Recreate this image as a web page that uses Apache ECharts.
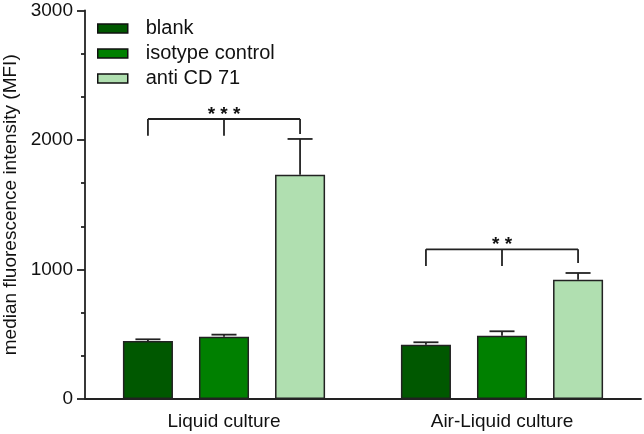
<!DOCTYPE html>
<html><head><meta charset="utf-8">
<script src="https://cdn.jsdelivr.net/npm/echarts@6/dist/echarts.min.js"></script>
<style>html,body{margin:0;padding:0;background:#fff}#c{width:644px;height:434px}</style>
</head><body><div id="c"></div>
<script>
var categories = ['Liquid culture', 'Air-Liquid culture'];
var seriesNames = ['blank', 'isotype control', 'anti CD 71'];
var blankMean = [448, 419];
var blankErr = [13, 19];
var isotypeMean = [481, 489];
var isotypeErr = [16, 34];
var antiMean = [1732, 921];
var antiErr = [276, 52];
var bracketLine = [2162, 1156];
var bracketLegLeft = [2033, 1027];
var bracketLegMid = [2033, 1027];
var bracketLegRight = [2046, 1050];
var bracketStars = ['* * *', '* *'];
var yTicks = [0, 1000, 2000, 3000];

var FONT = '"Liberation Sans", Arial, sans-serif';
var colors = ['#005800', '#008000', '#b0dfb0'];
var BAR_W = 0.18, BAR_GAP = 0.52;

function errSeries(means, errs, k) {
  return {
    type: 'custom', z: 5, silent: true,
    data: means.map(function (m, i) { return [i, m, errs[i]]; }),
    renderItem: function (params, api) {
      var band = api.size([1, 0])[0];
      var off = k * band * BAR_W * (1 + BAR_GAP);
      var cap = band * BAR_W * 0.5;
      var p0 = api.coord([api.value(0), api.value(1)]);
      var p1 = api.coord([api.value(0), api.value(1) + api.value(2)]);
      var x = p0[0] + off;
      var st = { stroke: '#222', lineWidth: 1.8 };
      return { type: 'group', children: [
        { type: 'line', shape: { x1: x, y1: p0[1], x2: x, y2: p1[1] }, style: st },
        { type: 'line', shape: { x1: x - cap / 2, y1: p1[1], x2: x + cap / 2, y2: p1[1] }, style: st }
      ]};
    }
  };
}

var bracketData = categories.map(function (c, i) {
  return [i, bracketLine[i], bracketLegLeft[i], bracketLegMid[i], bracketLegRight[i]];
});

var option = {
  animation: false,
  textStyle: { fontFamily: FONT },
  grid: { left: 85, right: 3, top: 10.5, bottom: 35, containLabel: false, outerBoundsMode: 'none' },
  legend: {
    orient: 'vertical', left: 97, top: 16, padding: 0,
    data: seriesNames, itemWidth: 30, itemHeight: 9, itemGap: 0,
    icon: 'rect',
    itemStyle: { borderColor: '#111', borderWidth: 1.5 },
    textStyle: { fontSize: 20, color: '#111', fontFamily: FONT, lineHeight: 25, padding: [0, 0, 0, 13] }
  },
  xAxis: {
    type: 'category', data: categories,
    axisLine: { lineStyle: { color: '#222', width: 1.8 } },
    axisTick: { alignWithLabel: true, length: 6, lineStyle: { color: '#222', width: 1.8 } },
    axisLabel: { fontSize: 19, color: '#111', margin: 13, fontFamily: FONT }
  },
  yAxis: {
    type: 'value', min: 0, max: 3000, interval: 1000,
    name: 'median fluorescence intensity (MFI)', nameLocation: 'middle', nameGap: 54,
    nameTextStyle: { fontSize: 19, color: '#111', fontFamily: FONT },
    axisLine: { show: true, lineStyle: { color: '#222', width: 1.8 } },
    axisTick: { show: true, length: 8, lineStyle: { color: '#222', width: 1.8 } },
    minorTick: { show: true, splitNumber: 3, length: 4, lineStyle: { color: '#222', width: 1.8 } },
    splitLine: { show: false },
    axisLabel: { fontSize: 19, color: '#111', margin: 12, fontFamily: FONT,
      formatter: function (v) { return yTicks.indexOf(v) >= 0 ? String(v) : ''; } }
  },
  series: [
    { name: seriesNames[0], type: 'bar', data: blankMean, barWidth: (BAR_W * 100) + '%', barGap: (BAR_GAP * 100) + '%',
      itemStyle: { color: colors[0], borderColor: '#222', borderWidth: 1.5 } },
    { name: seriesNames[1], type: 'bar', data: isotypeMean, barWidth: (BAR_W * 100) + '%', barGap: (BAR_GAP * 100) + '%',
      itemStyle: { color: colors[1], borderColor: '#222', borderWidth: 1.5 } },
    { name: seriesNames[2], type: 'bar', data: antiMean, barWidth: (BAR_W * 100) + '%', barGap: (BAR_GAP * 100) + '%',
      itemStyle: { color: colors[2], borderColor: '#222', borderWidth: 1.5 } },
    errSeries(blankMean, blankErr, -1),
    errSeries(isotypeMean, isotypeErr, 0),
    errSeries(antiMean, antiErr, 1),
    {
      type: 'custom', z: 6, silent: true, data: bracketData,
      renderItem: function (params, api) {
        var i = api.value(0);
        var band = api.size([1, 0])[0];
        var off = band * BAR_W * (1 + BAR_GAP);
        var c = api.coord([i, api.value(1)]);
        var yl = api.coord([i, api.value(2)])[1];
        var ym = api.coord([i, api.value(3)])[1];
        var yr = api.coord([i, api.value(4)])[1];
        var st = { stroke: '#222', lineWidth: 1.8 };
        var x = c[0], y = c[1];
        return { type: 'group', children: [
          { type: 'line', shape: { x1: x - off, y1: y, x2: x + off, y2: y }, style: st },
          { type: 'line', shape: { x1: x - off, y1: y, x2: x - off, y2: yl }, style: st },
          { type: 'line', shape: { x1: x, y1: y, x2: x, y2: ym }, style: st },
          { type: 'line', shape: { x1: x + off, y1: y, x2: x + off, y2: yr }, style: st },
          { type: 'text', style: { text: bracketStars[params.dataIndex], x: x, y: y + 5,
              fill: '#111', font: 'bold 19px ' + FONT, align: 'center', verticalAlign: 'bottom' } }
        ]};
      }
    }
  ]
};
echarts.init(document.getElementById('c')).setOption(option);
</script></body></html>
